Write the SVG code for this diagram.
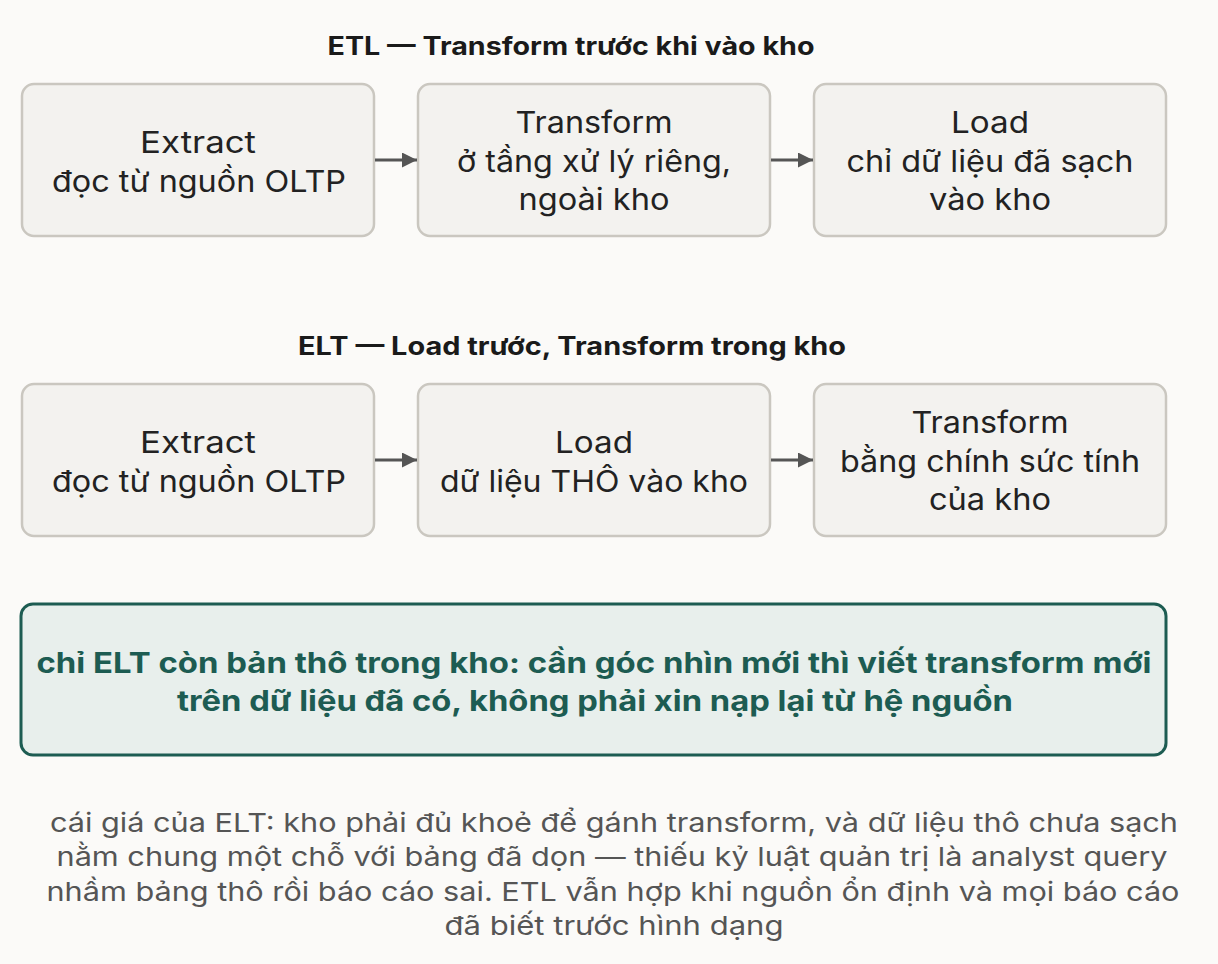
<svg xmlns="http://www.w3.org/2000/svg" width="1218" height="964" viewBox="0 0 1218 964">
<style>
.bg{fill:#fbfaf8}
.box{fill:#f3f2ef;stroke:#cac7c0;stroke-width:2.5}
.t{font-family:Inter,"Noto Sans",sans-serif;font-size:30px;fill:#222;text-anchor:middle}
.h{font-family:Inter,"Noto Sans",sans-serif;font-size:25px;font-weight:700;fill:#1a1a1a;text-anchor:middle}
.call{fill:#e8efec;stroke:#1d5c52;stroke-width:3}
.ct{font-family:Inter,"Noto Sans",sans-serif;font-size:28px;font-weight:700;fill:#1d5c52;text-anchor:middle}
.ft{font-family:Inter,"Noto Sans",sans-serif;font-size:26px;fill:#555;text-anchor:middle}
.ar{stroke:#555;stroke-width:3;fill:none}
</style>
<defs>
<marker id="ah" viewBox="0 0 10 10" refX="10" refY="5" markerWidth="5" markerHeight="5" orient="auto" markerUnits="strokeWidth">
<path d="M0,0L10,5L0,10z" fill="#555"/>
</marker>
</defs>
<rect class="bg" width="1218" height="964"/>
<text class="h" x="571" y="55" textLength="487" lengthAdjust="spacingAndGlyphs">ETL — Transform trước khi vào kho</text>
<g id="etl-extract"><rect class="box" x="22" y="84" width="352" height="152" rx="12"/>
<text class="t" x="198" y="153" textLength="116" lengthAdjust="spacingAndGlyphs">Extract</text><text class="t" x="199" y="192" textLength="294" lengthAdjust="spacingAndGlyphs">đọc từ nguồn OLTP</text></g>
<g id="etl-transform"><rect class="box" x="418" y="84" width="352" height="152" rx="12"/>
<text class="t" x="594" y="133" textLength="157" lengthAdjust="spacingAndGlyphs">Transform</text><text class="t" x="594" y="172" textLength="274" lengthAdjust="spacingAndGlyphs">ở tầng xử lý riêng,</text><text class="t" x="594" y="210" textLength="151" lengthAdjust="spacingAndGlyphs">ngoài kho</text></g>
<g id="etl-load"><rect class="box" x="814" y="84" width="352" height="152" rx="12"/>
<text class="t" x="990" y="133" textLength="78" lengthAdjust="spacingAndGlyphs">Load</text><text class="t" x="990" y="172" textLength="287" lengthAdjust="spacingAndGlyphs">chỉ dữ liệu đã sạch</text><text class="t" x="990" y="210" textLength="122" lengthAdjust="spacingAndGlyphs">vào kho</text></g>
<text class="h" x="572" y="355" textLength="548" lengthAdjust="spacingAndGlyphs">ELT — Load trước, Transform trong kho</text>
<g id="elt-extract"><rect class="box" x="22" y="384" width="352" height="152" rx="12"/>
<text class="t" x="198" y="453" textLength="116" lengthAdjust="spacingAndGlyphs">Extract</text><text class="t" x="199" y="492" textLength="294" lengthAdjust="spacingAndGlyphs">đọc từ nguồn OLTP</text></g>
<g id="elt-load"><rect class="box" x="418" y="384" width="352" height="152" rx="12"/>
<text class="t" x="594" y="453" textLength="78" lengthAdjust="spacingAndGlyphs">Load</text><text class="t" x="594" y="492" textLength="308" lengthAdjust="spacingAndGlyphs">dữ liệu THÔ vào kho</text></g>
<g id="elt-transform"><rect class="box" x="814" y="384" width="352" height="152" rx="12"/>
<text class="t" x="990" y="433" textLength="157" lengthAdjust="spacingAndGlyphs">Transform</text><text class="t" x="990" y="472" textLength="300" lengthAdjust="spacingAndGlyphs">bằng chính sức tính</text><text class="t" x="990" y="510" textLength="122" lengthAdjust="spacingAndGlyphs">của kho</text></g>
<g id="connectors">
<line class="ar" x1="375" y1="160" x2="417" y2="160" marker-end="url(#ah)"/>
<line class="ar" x1="771" y1="160" x2="813" y2="160" marker-end="url(#ah)"/>
<line class="ar" x1="375" y1="460" x2="417" y2="460" marker-end="url(#ah)"/>
<line class="ar" x1="771" y1="460" x2="813" y2="460" marker-end="url(#ah)"/>
</g>
<g id="callout"><rect class="call" x="21" y="604" width="1145" height="151" rx="12"/>
<text class="ct" x="594" y="673" textLength="1115" lengthAdjust="spacingAndGlyphs">chỉ ELT còn bản thô trong kho: cần góc nhìn mới thì viết transform mới</text>
<text class="ct" x="595" y="711" textLength="836" lengthAdjust="spacingAndGlyphs">trên dữ liệu đã có, không phải xin nạp lại từ hệ nguồn</text></g>
<g id="footer">
<text class="ft" x="614" y="832" textLength="1128" lengthAdjust="spacingAndGlyphs">cái giá của ELT: kho phải đủ khoẻ để gánh transform, và dữ liệu thô chưa sạch</text>
<text class="ft" x="612" y="866" textLength="1111" lengthAdjust="spacingAndGlyphs">nằm chung một chỗ với bảng đã dọn — thiếu kỷ luật quản trị là analyst query</text>
<text class="ft" x="613" y="901" textLength="1133" lengthAdjust="spacingAndGlyphs">nhầm bảng thô rồi báo cáo sai. ETL vẫn hợp khi nguồn ổn định và mọi báo cáo</text>
<text class="ft" x="614" y="935" textLength="339" lengthAdjust="spacingAndGlyphs">đã biết trước hình dạng</text>
</g>
</svg>
